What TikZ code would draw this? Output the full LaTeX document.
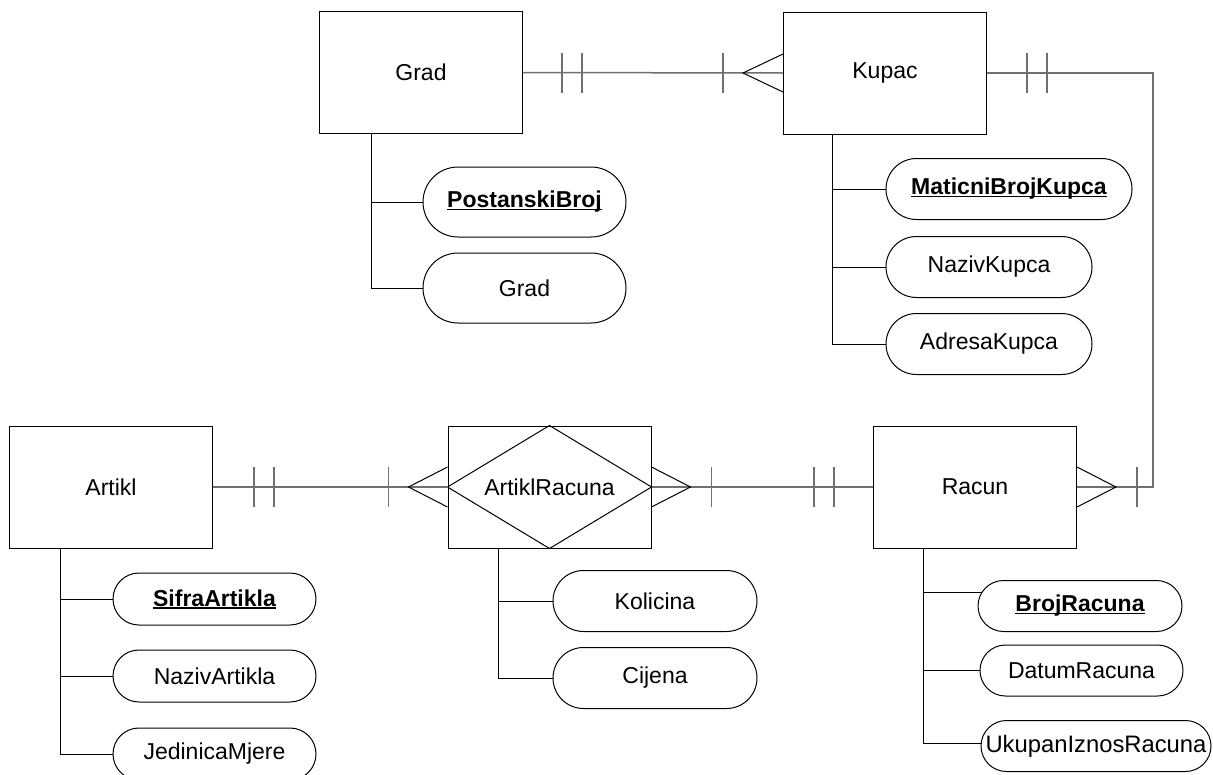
\documentclass[tikz,border=0pt]{standalone}
\usepackage{fontspec}
\setmainfont{Liberation Sans}
\usetikzlibrary{calc}
\definecolor{relgray}{RGB}{112,112,112}
\newsavebox\keybox
\newcommand\keyname[1]{\sbox\keybox{\bfseries #1}\rlap{\rule[-2.5pt]{\wd\keybox}{1.5pt}}\usebox\keybox}
\begin{document}
\begin{tikzpicture}[x=1pt,y=-1pt,
  every node/.style={font=\fontsize{23}{27}\selectfont},
  entity/.style={draw=black, line width=1pt, rectangle, minimum width=203pt, minimum height=122pt, inner sep=0pt},
  attr/.style n args={3}{draw=black, line width=1pt, rectangle, inner sep=0pt, minimum width=#1pt, minimum height=#2pt, rounded corners=#3pt},
  tree/.style={draw=black, line width=1pt},
  rel/.style={draw=relgray, line width=1.5pt},
  tickmark/.style={draw=relgray, line width=1.5pt},
  crow/.style={draw=black, line width=1pt}]
\useasboundingbox (0,0) rectangle (1213,774);
\clip (0,0) rectangle (1213,774);

% entities
\node[entity] (grad) at (421,72.5) {Grad};
\node[entity] (kupac) at (885,73) {Kupac};
\node[entity] (artikl) at (111,487) {Artikl};
\node[entity] (ar) at (549.5,487) {};
\node (artext) at (ar.center) {ArtiklRacuna};
\node[entity] (racun) at (975,487) {Racun};
\draw[crow] (ar.north) -- (ar.east) -- (ar.south) -- (ar.west) -- cycle;

% attributes
\node[attr={203}{70}{35}] (pb) at (524.5,202) {\keyname{PostanskiBroj}};
\node[attr={203}{70}{35}] (gradattr) at (524.5,288) {Grad};
\node[attr={246}{61}{30.5}] (mbk) at (1009,189) {\keyname{MaticniBrojKupca}};
\node[attr={206}{61}{30.5}] (nk) at (989,267) {NazivKupca};
\node[attr={206}{61}{30.5}] (ak) at (989,344) {AdresaKupca};
\node[attr={203}{52}{26}] (sa) at (214.5,599) {\keyname{SifraArtikla}};
\node[attr={203}{52}{26}] (na) at (214.5,676) {NazivArtikla};
\node[attr={203}{52}{26}] (jm) at (214.5,754) {JedinicaMjere};
\node[attr={204}{61}{30.5}] (kol) at (655,601) {Kolicina};
\node[attr={204}{61}{30.5}] (cij) at (655,678) {Cijena};
\node[attr={204}{51}{25.5}] (br) at (1080,606) {\keyname{BrojRacuna}};
\node[attr={203}{51}{25.5}] (dr) at (1081.5,670.5) {DatumRacuna};
\node[attr={230}{51}{25.5}, font=\fontsize{23.8}{27}\selectfont] (uk) at (1096,746) {UkupanIznosRacuna};

% attribute trees
\draw[tree] ($(grad.south west)+(52,0)$) |- (pb.west);
\draw[tree] ($(grad.south west)+(52,0)$) |- (gradattr.west);
\draw[tree] ($(kupac.south west)+(49,0)$) |- (mbk.west);
\draw[tree] ($(kupac.south west)+(49,0)$) |- (nk.west);
\draw[tree] ($(kupac.south west)+(49,0)$) |- (ak.west);
\draw[tree] ($(artikl.south west)+(51,0)$) |- (sa.west);
\draw[tree] ($(artikl.south west)+(51,0)$) |- (na.west);
\draw[tree] ($(artikl.south west)+(51,0)$) |- (jm.west);
\draw[tree] ($(ar.south west)+(51,0)$) |- (kol.west);
\draw[tree] ($(ar.south west)+(51,0)$) |- (cij.west);
\draw[tree] ($(racun.south west)+(50,0)$) |- ($(br.west)+(4,-14)$);
\draw[tree] ($(racun.south west)+(50,0)$) |- (dr.west);
\draw[tree] ($(racun.south west)+(50,0)$) |- ($(uk.west)+(1,-3)$);

% Grad -- Kupac
\draw[rel] (grad.east) -- (kupac.west);
\draw[tickmark] ($(grad.east)+(39,-20)$) -- ++(0,40);
\draw[tickmark] ($(grad.east)+(59,-20)$) -- ++(0,40);
\draw[tickmark] ($(kupac.west)+(-60,-20)$) -- ++(0,40);
\draw[crow] ($(kupac.west)+(0,-19)$) -- ($(kupac.west)+(-40,0)$) -- ($(kupac.west)+(0,19)$);

% Kupac -- Racun
\draw[rel] (kupac.east) -| ($(racun.east)+(76,0)$) -- (racun.east);
\draw[tickmark] ($(kupac.east)+(40,-20)$) -- ++(0,40);
\draw[tickmark] ($(kupac.east)+(60,-20)$) -- ++(0,40);
\draw[tickmark] ($(racun.east)+(60,-20)$) -- ++(0,40);
\draw[crow] ($(racun.east)+(0,-20)$) -- ($(racun.east)+(39,0)$) -- ($(racun.east)+(0,20)$);

% Artikl -- ArtiklRacuna
\draw[rel] (artikl.east) -- (ar.west);
\draw[tickmark] ($(artikl.east)+(41,-20)$) -- ++(0,40);
\draw[tickmark] ($(artikl.east)+(61,-20)$) -- ++(0,40);
\draw[tickmark] ($(ar.west)+(-59,-20)$) -- ++(0,40);
\draw[crow] ($(ar.west)+(0,-20)$) -- ($(ar.west)+(-39,0)$) -- ($(ar.west)+(0,20)$);

% ArtiklRacuna -- Racun
\draw[rel] (ar.east) -- (racun.west);
\draw[crow] ($(ar.east)+(0,-20)$) -- ($(ar.east)+(39,0)$) -- ($(ar.east)+(0,20)$);
\draw[tickmark] ($(ar.east)+(60,-20)$) -- ++(0,40);
\draw[tickmark] ($(racun.west)+(-59,-20)$) -- ++(0,40);
\draw[tickmark] ($(racun.west)+(-39,-20)$) -- ++(0,40);
\end{tikzpicture}
\end{document}
